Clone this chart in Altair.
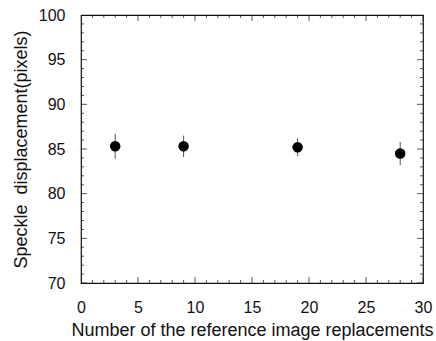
import altair as alt
import pandas as pd

# Data
x_vals = [3, 9, 19, 28]
y_vals = [85.3, 85.3, 85.2, 84.5]
y_err = [1.4, 1.2, 1.0, 1.3]

x_major = [0, 5, 10, 15, 20, 25, 30]
y_major = [70, 75, 80, 85, 90, 95, 100]
x_minor = [1, 2, 3, 4, 6, 7, 8, 9, 11, 12, 13, 14, 16, 17, 18, 19,
           21, 22, 23, 24, 26, 27, 28, 29]
y_minor = [71, 72, 73, 74, 76, 77, 78, 79, 81, 82, 83, 84, 86, 87, 88, 89,
           91, 92, 93, 94, 96, 97, 98, 99]

x_domain = [0, 30]
y_domain = [70, 100]

FONT = "Liberation Sans"
INK = "#111111"

df = pd.DataFrame({
    "x": x_vals,
    "y": y_vals,
    "lo": [v - e for v, e in zip(y_vals, y_err)],
    "hi": [v + e for v, e in zip(y_vals, y_err)],
})

xs = alt.Scale(domain=x_domain, nice=False, zero=False)
ys = alt.Scale(domain=y_domain, nice=False, zero=False)

x_axis = alt.Axis(title="Number of the reference image replacements",
                  values=x_major, ticks=False, domain=False, grid=False,
                  labelFlush=False, labelPadding=16, titlePadding=6,
                  labelFontSize=16,
                  titleFontSize=18, titleFontWeight="normal",
                  labelFont=FONT, titleFont=FONT, labelColor=INK,
                  titleColor=INK)
y_axis = alt.Axis(title="Speckle\u00a0 displacement(pixels)",
                  values=y_major, ticks=False, domain=False, grid=False,
                  labelFlush=False, labelPadding=16, titlePadding=8,
                  labelFontSize=16,
                  titleFontSize=18, titleFontWeight="normal",
                  labelFont=FONT, titleFont=FONT, labelColor=INK,
                  titleColor=INK)


def xticks(vals, length):
    d = pd.DataFrame([{"x": v, "y": e} for v in vals for e in y_domain])
    return alt.Chart(d).mark_tick(orient="vertical", size=length, thickness=1,
                                  color=INK, clip=True).encode(
        x=alt.X("x:Q", scale=xs),
        y=alt.Y("y:Q", scale=ys),
    )


def yticks(vals, length):
    d = pd.DataFrame([{"x": e, "y": v} for v in vals for e in x_domain])
    return alt.Chart(d).mark_tick(orient="horizontal", size=length, thickness=1,
                                  color=INK, clip=True).encode(
        x=alt.X("x:Q", scale=xs),
        y=alt.Y("y:Q", scale=ys),
    )


points = alt.Chart(df).mark_circle(size=110, color="black", opacity=1).encode(
    x=alt.X("x:Q", scale=xs, axis=x_axis),
    y=alt.Y("y:Q", scale=ys, axis=y_axis),
)

errs = alt.Chart(df).mark_rule(color="#555555", strokeWidth=1).encode(
    x=alt.X("x:Q", scale=xs),
    y=alt.Y("lo:Q", scale=ys),
    y2="hi:Q",
)

chart = alt.layer(
    xticks(x_major, 12), xticks(x_minor, 6),
    yticks(y_major, 12), yticks(y_minor, 6),
    errs, points,
).properties(
    width=342, height=268,
    autosize=alt.AutoSizeParams(type="none"),
    padding={"left": 81, "top": 15, "right": 13, "bottom": 58},
    background="white",
).configure_view(stroke=INK, strokeWidth=1.2)

chart.save("out.html", embed_options={"renderer": "svg", "actions": False})
